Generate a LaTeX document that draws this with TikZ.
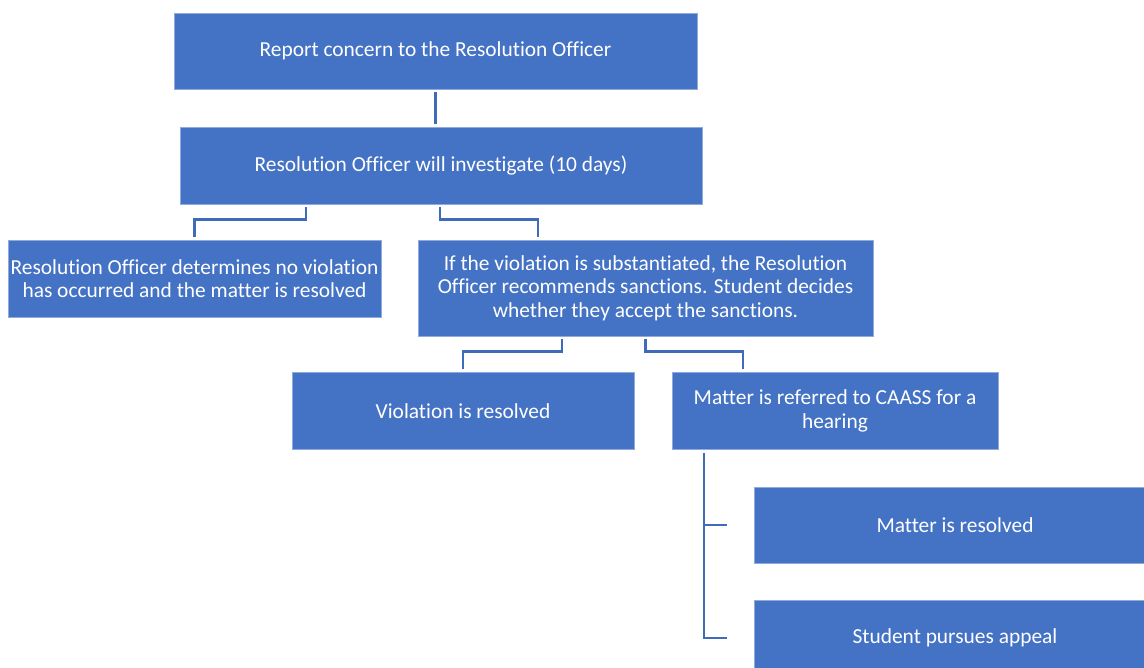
\documentclass[tikz,border=0pt]{standalone}
\usepackage{fontspec}
\setmainfont{Carlito}[Ligatures=NoCommon]
\usetikzlibrary{positioning}
\definecolor{boxblue}{HTML}{4472C4}
\definecolor{linkblue}{HTML}{3F6BBA}
\tikzset{
    stepbox/.style={rectangle, fill=boxblue, draw=boxblue!60!white, line width=0.6pt,
        text=white, align=center, font=\fontsize{21.4}{23.5}\selectfont,
        minimum height=77pt, inner sep=2pt},
    link/.style={draw=linkblue, line width=2.6pt, shorten <=3pt, shorten >=3pt}
}
\begin{document}
\begin{tikzpicture}[x=1pt, y=-1pt]
        \useasboundingbox (0,0) rectangle (1144,668);

        \node [stepbox, minimum width=523pt, minimum height=76pt] (report) at (435.5,51) {Report concern to the Resolution Officer};
        \node [stepbox, minimum width=522pt] (invest) at (441,165.5) {Resolution Officer will investigate (10 days)};
        \node [stepbox, minimum width=373pt] (noviol) at (194.5,278.5) {Resolution Officer determines no violation\\has occurred and the matter is resolved};
        \node [stepbox, minimum width=455pt, minimum height=96pt] (subst) at (645.5,288) {If the violation is substantiated, the Resolution\\Officer recommends sanctions. Student decides\\whether they accept the sanctions.};
        \node [stepbox, minimum width=342pt] (resolved) at (463,411) {Violation is resolved};
        \node [stepbox, minimum width=326pt] (caass) at (835,411) {Matter is referred to CAASS for a\\hearing};
        \node [stepbox, minimum width=402pt, minimum height=76pt] (matres) at (955,525) {Matter is resolved};
        \node [stepbox, minimum width=402pt, minimum height=76pt] (appeal) at (955,638) {Student pursues appeal};

        \coordinate (trunk) at ([xshift=-131pt]caass.south);
        \coordinate (tieA) at ([xshift=-27pt]matres.west);
        \coordinate (tieB) at ([xshift=-27pt]appeal.west);

        \draw [link] (report.south) -- (report.south |- invest.north);
        \draw [link] ([xshift=-135pt]invest.south) -- ++(0,-15pt) -| (noviol.north);
        \draw [link] ([xshift=-1pt]invest.south) -- ++(0,-15pt) -| ([xshift=-107.5pt]subst.north);
        \draw [link] ([xshift=-83.5pt]subst.south) -- ++(0,-15pt) -| (resolved.north);
        \draw [link] (subst.south) -- ++(0,-15pt) -| ([xshift=-92pt]caass.north);
        \draw [link, shorten >=0pt] (trunk) |- (tieB);
        \draw [link, shorten <=0pt, shorten >=0pt] (trunk |- tieA) -- (tieA);
    \end{tikzpicture}
\end{document}
